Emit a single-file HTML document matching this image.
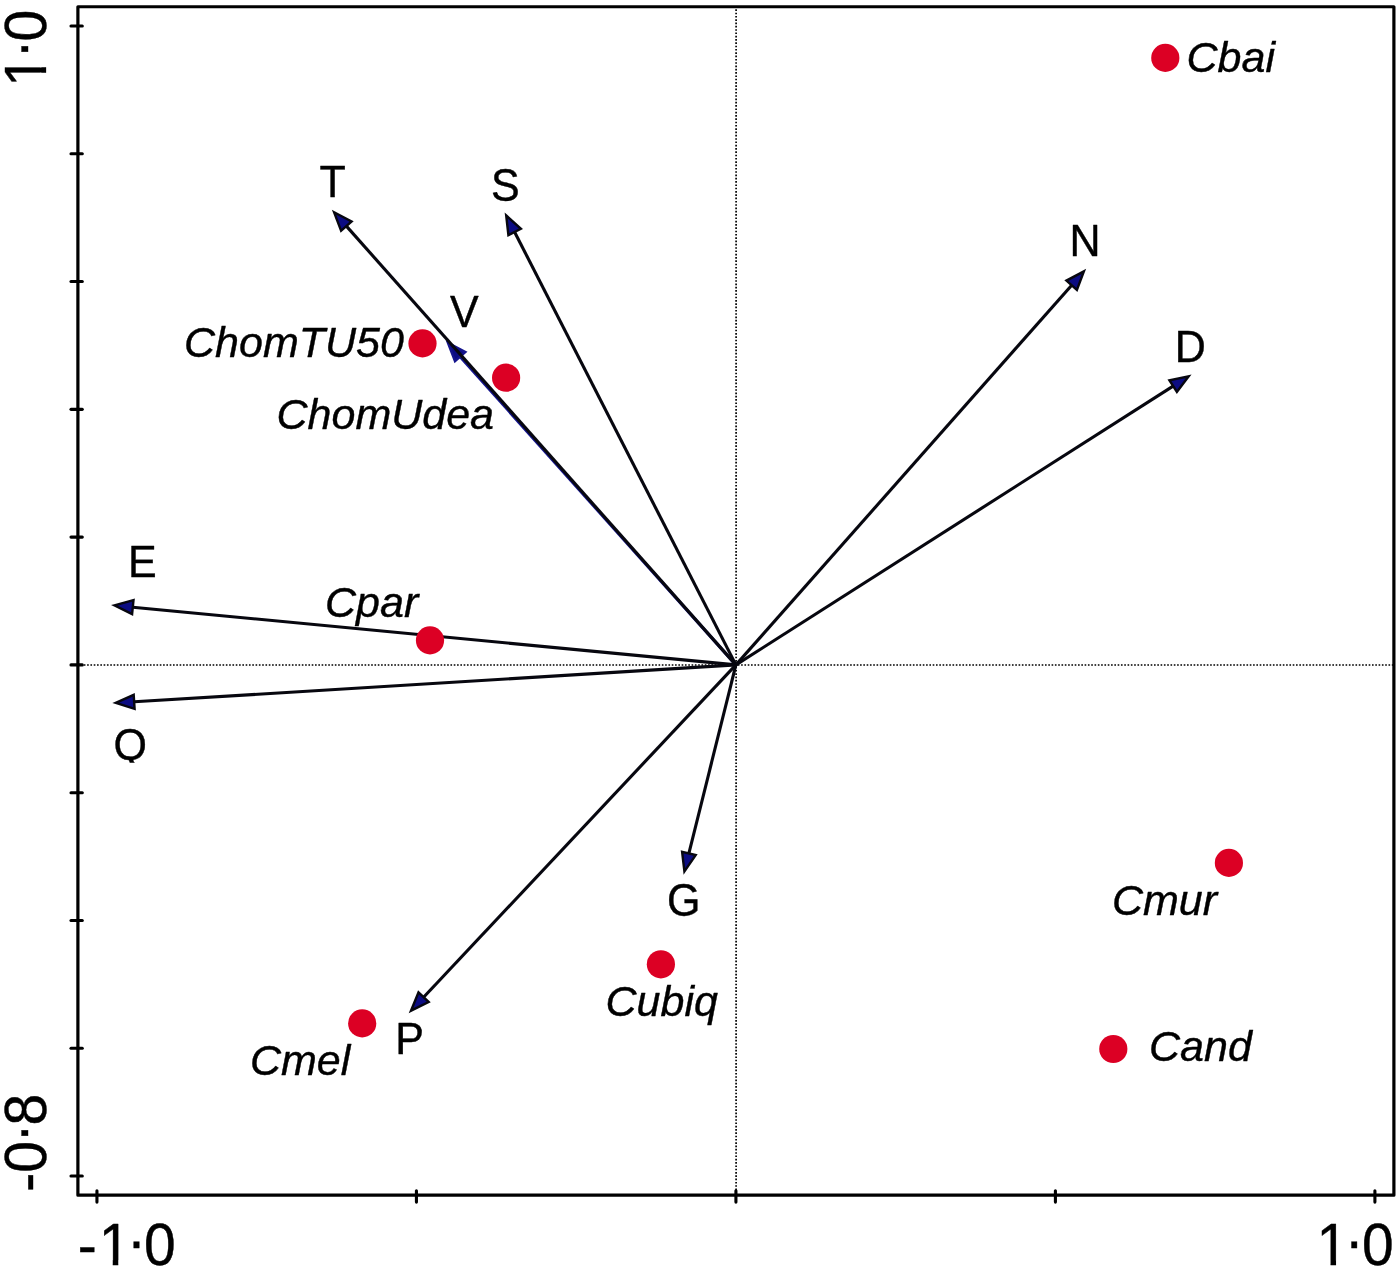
<!DOCTYPE html>
<html><head><meta charset="utf-8"><title>Biplot</title>
<style>
html,body{margin:0;padding:0;background:#fff;}
svg{display:block;}
text{font-family:"Liberation Sans",Arial,sans-serif;fill:#000;stroke:#000;stroke-width:0.4px;stroke-linejoin:round;}
.rg{font-size:43px;}
.it{font-size:43px;font-style:italic;}
.ax{font-size:57px;}
</style></head><body>
<svg width="1400" height="1271" viewBox="0 0 1400 1271">
<defs><clipPath id="cq"><rect x="-3" y="-45" width="45" height="47.6"/></clipPath><clipPath id="c1"><rect x="-30" y="-60" width="120" height="54.8"/><rect x="15.95" y="-5.4" width="5.5" height="6.4"/><rect x="46.3" y="-5.4" width="36" height="7.4"/></clipPath></defs>
<rect width="1400" height="1271" fill="#fff"/>
<g stroke="#000" stroke-width="1.7" stroke-dasharray="1.65 1.653" stroke-dashoffset="0.7" fill="none">
<line x1="77.9" y1="665" x2="1393.95" y2="665"/>
<line x1="736.1" y1="6.73" x2="736.1" y2="1195.1"/>
</g>
<rect x="77.9" y="6.73" width="1316.0" height="1188.4" fill="none" stroke="#000" stroke-width="3.2" stroke-linejoin="round"/>
<g stroke="#000" stroke-width="3.1" stroke-linecap="round">
<line x1="71.0" y1="25.96" x2="82.3" y2="25.96"/>
<line x1="71.0" y1="153.75" x2="82.3" y2="153.75"/>
<line x1="71.0" y1="281.54" x2="82.3" y2="281.54"/>
<line x1="71.0" y1="409.33" x2="82.3" y2="409.33"/>
<line x1="71.0" y1="537.12" x2="82.3" y2="537.12"/>
<line x1="71.0" y1="664.91" x2="82.3" y2="664.91"/>
<line x1="71.0" y1="792.70" x2="82.3" y2="792.70"/>
<line x1="71.0" y1="920.49" x2="82.3" y2="920.49"/>
<line x1="71.0" y1="1048.28" x2="82.3" y2="1048.28"/>
<line x1="71.0" y1="1176.07" x2="82.3" y2="1176.07"/>
<line x1="96.94" y1="1190.8" x2="96.94" y2="1202.1"/>
<line x1="416.43" y1="1190.8" x2="416.43" y2="1202.1"/>
<line x1="735.92" y1="1190.8" x2="735.92" y2="1202.1"/>
<line x1="1055.41" y1="1190.8" x2="1055.41" y2="1202.1"/>
<line x1="1374.90" y1="1190.8" x2="1374.90" y2="1202.1"/>
</g>
<line x1="735.9" y1="664.9" x2="460.2" y2="356.6" stroke="#14148c" stroke-width="3.1"/>
<polygon points="447.9,342.8 465.4,351.9 455.0,361.2" fill="#0c0c82" stroke="#14148c" stroke-width="2.4" stroke-linejoin="miter"/>
<line x1="735.9" y1="664.9" x2="346.4" y2="226.1" stroke="#07070f" stroke-width="3.1"/>
<polygon points="334.1,212.3 351.6,221.5 341.1,230.8" fill="#0c0c82" stroke="#07070f" stroke-width="2.4" stroke-linejoin="miter"/>
<line x1="735.9" y1="664.9" x2="514.6" y2="232.0" stroke="#07070f" stroke-width="3.1"/>
<polygon points="506.2,215.5 520.9,228.8 508.4,235.2" fill="#0c0c82" stroke="#07070f" stroke-width="2.4" stroke-linejoin="miter"/>
<line x1="735.9" y1="664.9" x2="1071.7" y2="285.2" stroke="#07070f" stroke-width="3.1"/>
<polygon points="1083.9,271.4 1076.9,289.9 1066.4,280.6" fill="#0c0c82" stroke="#07070f" stroke-width="2.4" stroke-linejoin="miter"/>
<line x1="735.9" y1="664.9" x2="1173.1" y2="386.1" stroke="#07070f" stroke-width="3.1"/>
<polygon points="1188.7,376.2 1176.9,392.0 1169.4,380.2" fill="#0c0c82" stroke="#07070f" stroke-width="2.4" stroke-linejoin="miter"/>
<line x1="735.9" y1="664.9" x2="132.8" y2="607.2" stroke="#07070f" stroke-width="3.1"/>
<polygon points="114.4,605.4 133.5,600.2 132.1,614.1" fill="#0c0c82" stroke="#07070f" stroke-width="2.4" stroke-linejoin="miter"/>
<line x1="735.9" y1="664.9" x2="134.2" y2="701.8" stroke="#07070f" stroke-width="3.1"/>
<polygon points="115.7,702.9 133.7,694.8 134.6,708.8" fill="#0c0c82" stroke="#07070f" stroke-width="2.4" stroke-linejoin="miter"/>
<line x1="735.9" y1="664.9" x2="688.9" y2="853.4" stroke="#07070f" stroke-width="3.1"/>
<polygon points="684.4,871.4 682.1,851.8 695.7,855.1" fill="#0c0c82" stroke="#07070f" stroke-width="2.4" stroke-linejoin="miter"/>
<line x1="735.9" y1="664.9" x2="423.6" y2="997.2" stroke="#07070f" stroke-width="3.1"/>
<polygon points="411.0,1010.7 418.5,992.4 428.7,1002.0" fill="#0c0c82" stroke="#07070f" stroke-width="2.4" stroke-linejoin="miter"/>
<circle cx="1165.3" cy="57.9" r="14.1" fill="#dc0024"/>
<circle cx="422.5" cy="343.4" r="14.1" fill="#dc0024"/>
<circle cx="506.1" cy="377.7" r="14.1" fill="#dc0024"/>
<circle cx="430" cy="640.4" r="14.1" fill="#dc0024"/>
<circle cx="1228.9" cy="862.9" r="14.1" fill="#dc0024"/>
<circle cx="1113.3" cy="1049" r="14.1" fill="#dc0024"/>
<circle cx="660.9" cy="964.3" r="14.1" fill="#dc0024"/>
<circle cx="362.2" cy="1023.4" r="14.1" fill="#dc0024"/>
<text class="rg" transform="translate(319.5,197.4) scale(1,1.03)">T</text>
<text class="rg" transform="translate(491,200.7) scale(1,1.065)">S</text>
<text class="rg" transform="translate(450,327.1) scale(1,1.03)">V</text>
<text class="rg" transform="translate(1069.4,256.2) scale(1,1.03)">N</text>
<text class="rg" transform="translate(1174.7,361.8) scale(1,1.03)">D</text>
<text class="rg" transform="translate(128.1,576.8) scale(1,1.03)">E</text>
<text class="rg" clip-path="url(#cq)" transform="translate(113.6,760) scale(1,1.03)">Q</text>
<text class="rg" transform="translate(666.9,915.5) scale(1,1.065)">G</text>
<text class="rg" transform="translate(395.2,1053.8) scale(1,1.03)">P</text>
<text class="it" x="1186.5" y="71.7">Cbai</text>
<text class="it" x="184" y="357.1">ChomTU50</text>
<text class="it" x="276.5" y="428.8">ChomUdea</text>
<text class="it" x="325" y="616.5">Cpar</text>
<text class="it" x="1112" y="914.6">Cmur</text>
<text class="it" x="1149" y="1060.6">Cand</text>
<text class="it" x="605.5" y="1016.1">Cubiq</text>
<text class="it" x="250" y="1074.6">Cmel</text>
<g transform="translate(96.8,1265.3) scale(1,1.035)"><text class="ax" clip-path="url(#c1)" x="-18.94 1.85 30.2 47.3" dy="0 0 -4.4 4.4">-1·0</text></g>
<g transform="translate(1314.6,1265.3) scale(1,1.035)"><text class="ax" clip-path="url(#c1)" x="1.85 30.2 47.3" dy="0 -4.4 4.4">1·0</text></g>
<g transform="translate(45.6,88.7) rotate(-90) scale(1,1.035)"><text class="ax" clip-path="url(#c1)" x="1.85 30.2 47.3" dy="0 -4.4 4.4">1·0</text></g>
<g transform="translate(45.6,1172.8) rotate(-90) scale(1,1.035)"><text class="ax" x="-18.94 0 30.2 47.3" dy="0 0 -4.4 4.4">-0·8</text></g>
</svg>
</body></html>
